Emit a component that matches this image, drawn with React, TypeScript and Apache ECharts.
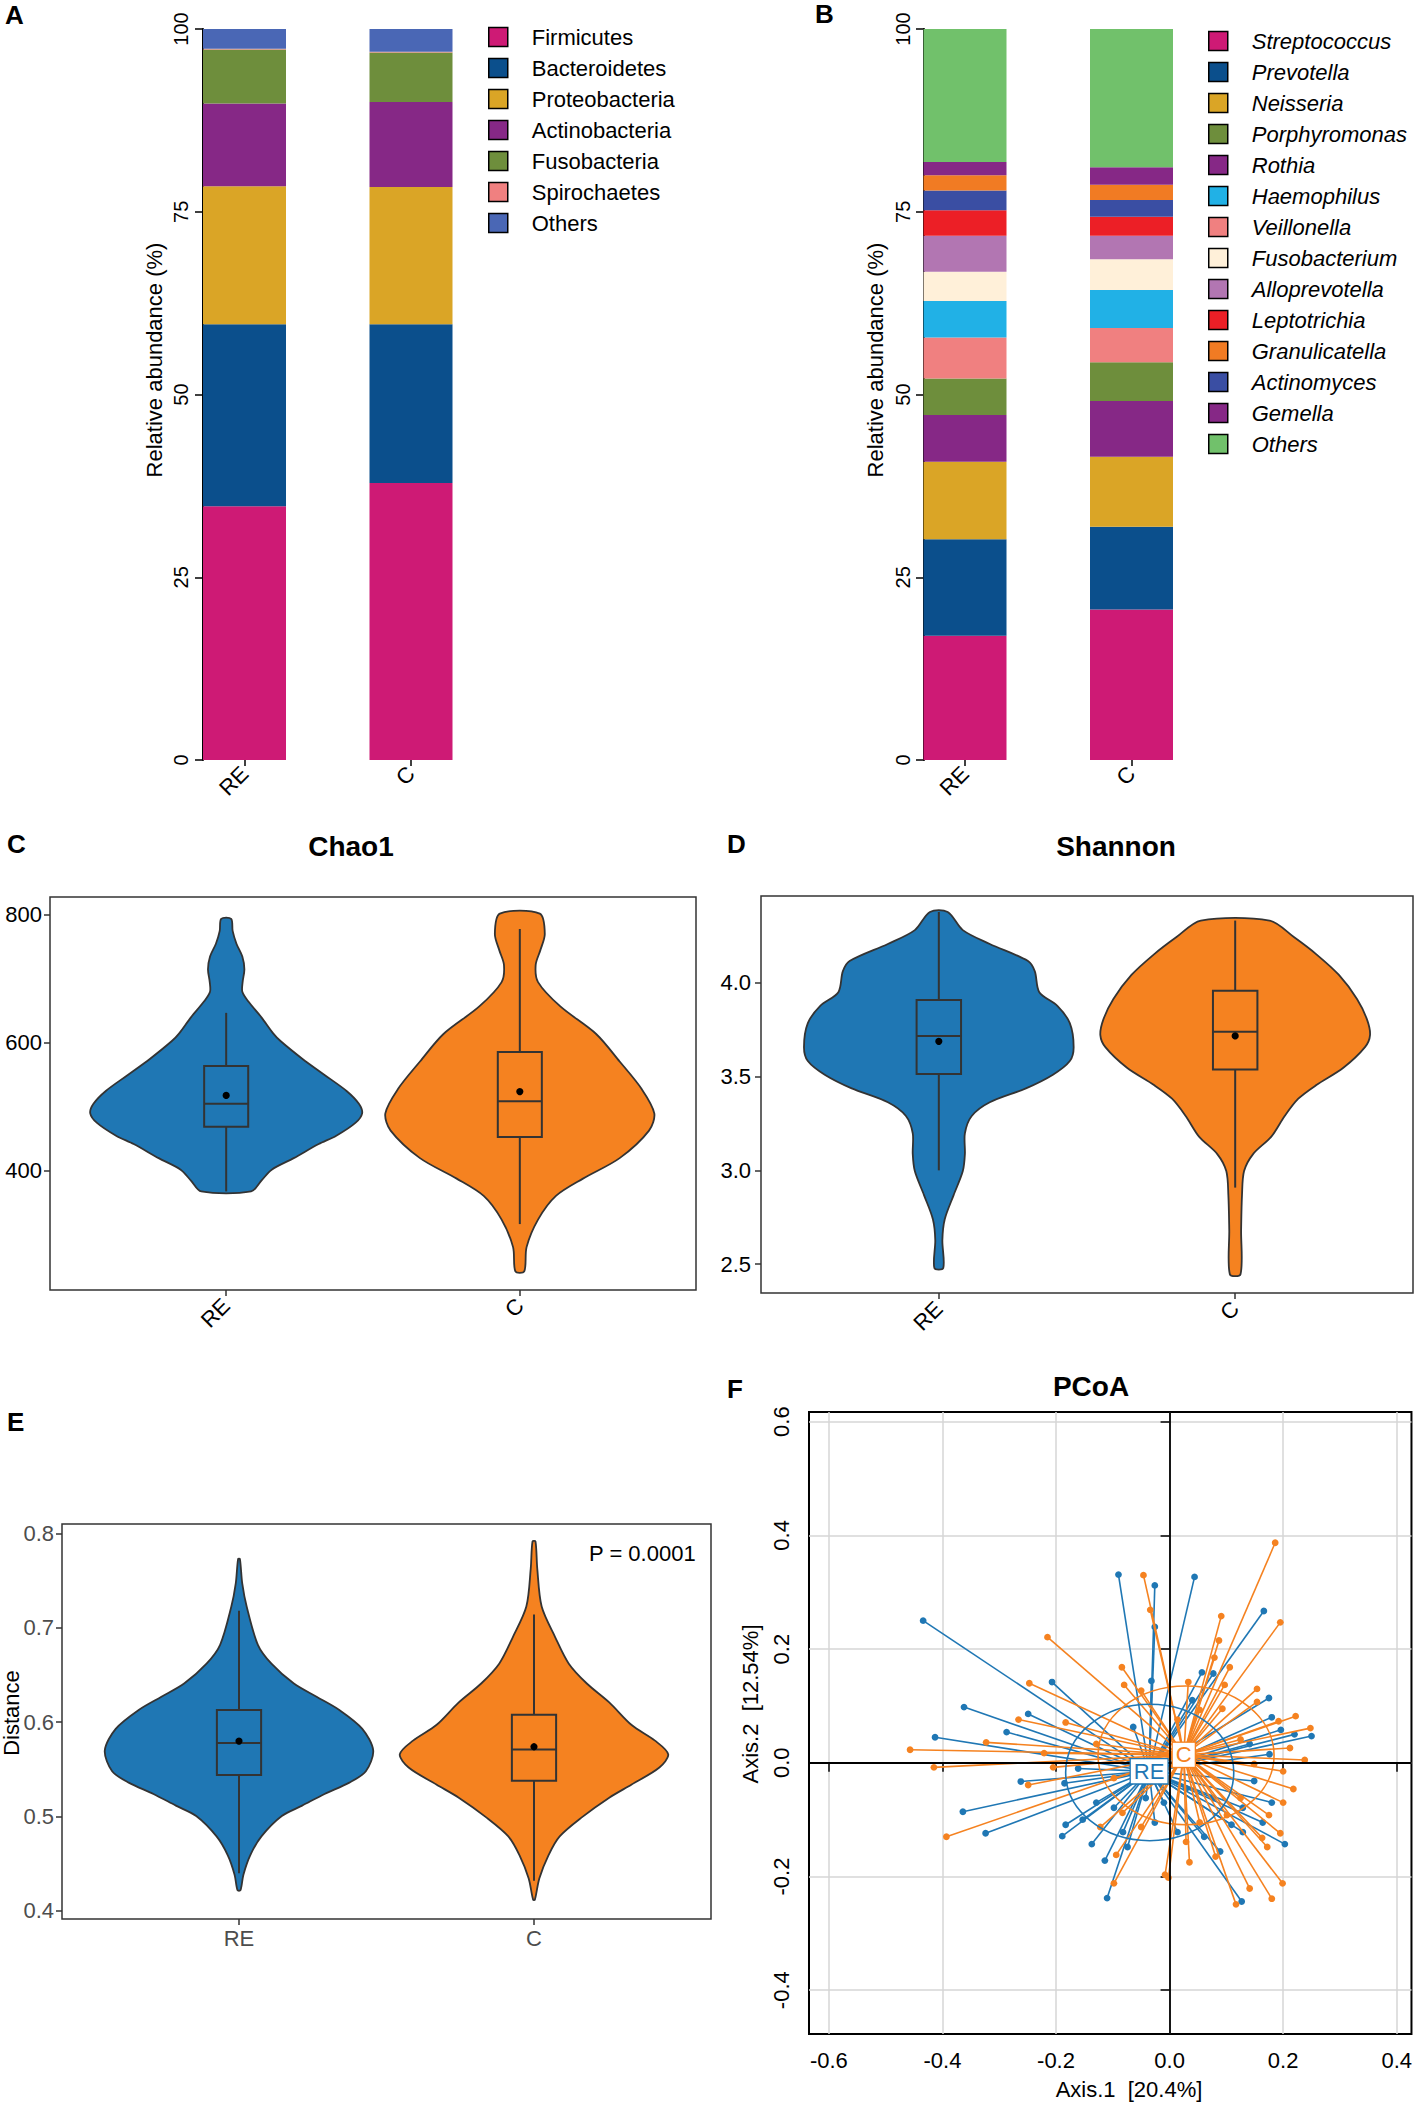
import React, { useEffect, useRef } from "react";
import * as echarts from "echarts";

const FONT = "'Liberation Sans', Arial, Helvetica, sans-serif";
const groups = ["RE", "C"];
const groupColors = ["#1F77B4", "#F58220"];

// ---------- Panel A: phylum composition ----------
const phylumNames = ["Firmicutes", "Bacteroidetes", "Proteobacteria", "Actinobacteria", "Fusobacteria", "Spirochaetes", "Others"];
const phylumColors = ["#CE1A75", "#0B4F8C", "#DAA526", "#862886", "#6E8E3C", "#F08080", "#4A67B5"];
const phylumRE = [34.7, 24.9, 18.9, 11.3, 7.4, 0.1, 2.7];
const phylumC = [37.9, 21.7, 18.8, 11.6, 6.8, 0.1, 3.1];

// ---------- Panel B: genus composition (stack order, bottom to top) ----------
const genusNames = ["Streptococcus", "Prevotella", "Neisseria", "Rothia", "Porphyromonas", "Veillonella", "Haemophilus", "Fusobacterium", "Alloprevotella", "Leptotrichia", "Actinomyces", "Granulicatella", "Gemella", "Others "];
const genusColors = ["#CE1A75", "#0B4F8C", "#DAA526", "#862886", "#6E8E3C", "#F08080", "#21B1E6", "#FFF0D9", "#B276B2", "#EC1F26", "#3A4EA3", "#F17B23", "#862886", "#71C16B"];
const genusRE = [17.0, 13.2, 10.6, 6.4, 5.0, 5.6, 5.0, 4.0, 4.9, 3.5, 2.7, 2.1, 1.8, 18.2];
const genusC = [20.6, 11.3, 9.6, 7.6, 5.3, 4.7, 5.2, 4.2, 3.2, 2.6, 2.3, 2.1, 2.4, 18.9];
const genusLegendOrder = ["Streptococcus", "Prevotella", "Neisseria", "Porphyromonas", "Rothia", "Haemophilus", "Veillonella", "Fusobacterium", "Alloprevotella", "Leptotrichia", "Granulicatella", "Actinomyces", "Gemella", "Others "];

// ---------- Panel C: Chao1 violin profiles [value, half width (category units)] ----------
const chaoViolinRE = [[794, 0.017], [775, 0.022], [755, 0.035], [735, 0.055], [715, 0.062], [695, 0.056], [680, 0.055], [665, 0.075], [640, 0.12], [615, 0.16], [603, 0.185], [575, 0.26], [550, 0.335], [525, 0.41], [505, 0.452], [490, 0.463], [475, 0.44], [455, 0.375], [442, 0.315], [420, 0.23], [402, 0.155], [385, 0.12], [368, 0.085]];
const chaoViolinC = [[802, 0.068], [770, 0.085], [745, 0.07], [722, 0.054], [695, 0.062], [657, 0.138], [614, 0.26], [571, 0.34], [528, 0.415], [490, 0.458], [463, 0.44], [420, 0.34], [388, 0.215], [361, 0.123], [324, 0.062], [281, 0.023], [243, 0.015]];
// [x, min, q1, median, q3, max, mean]
const chaoBox = [[1, 368, 469, 505, 564, 647, 518], [2, 317, 453, 509, 586, 778, 524]];

// ---------- Panel D: Shannon ----------
const shannonViolinRE = [[4.378, 0.03], [4.281, 0.081], [4.207, 0.172], [4.116, 0.301], [4.061, 0.324], [3.95, 0.339], [3.877, 0.4], [3.785, 0.442], [3.657, 0.455], [3.583, 0.442], [3.51, 0.385], [3.437, 0.294], [3.363, 0.172], [3.29, 0.111], [3.198, 0.088], [3.088, 0.088], [2.996, 0.081], [2.868, 0.05], [2.739, 0.02], [2.629, 0.012], [2.479, 0.015]];
const shannonViolinC = [[4.332, 0.116], [4.244, 0.198], [4.152, 0.274], [4.042, 0.35], [3.914, 0.411], [3.804, 0.445], [3.721, 0.455], [3.657, 0.438], [3.547, 0.365], [3.455, 0.274], [3.382, 0.213], [3.29, 0.167], [3.18, 0.122], [3.088, 0.061], [2.996, 0.03], [2.868, 0.023], [2.684, 0.02], [2.446, 0.018]];
const shannonBox = [[1, 3.0, 3.514, 3.717, 3.908, 4.378, 3.688], [2, 2.908, 3.538, 3.739, 3.958, 4.332, 3.717]];

// ---------- Panel E: Distance ----------
const distViolinRE = [[0.773, 0.003], [0.747, 0.011], [0.7225, 0.026], [0.682, 0.064], [0.662, 0.11], [0.641, 0.186], [0.627, 0.263], [0.613, 0.34], [0.593, 0.418], [0.57, 0.455], [0.548, 0.43], [0.536, 0.374], [0.524, 0.29], [0.5116, 0.214], [0.5006, 0.145], [0.479, 0.076], [0.459, 0.038], [0.4385, 0.015], [0.422, 0.005]];
const distViolinC = [[0.7915, 0.005], [0.763, 0.011], [0.7225, 0.026], [0.69, 0.072], [0.662, 0.118], [0.641, 0.179], [0.621, 0.255], [0.597, 0.331], [0.5805, 0.41], [0.566, 0.455], [0.552, 0.425], [0.534, 0.331], [0.52, 0.255], [0.4994, 0.163], [0.479, 0.087], [0.459, 0.049], [0.4345, 0.018], [0.412, 0.003]];
const distBox = [[1, 0.44, 0.544, 0.578, 0.613, 0.718, 0.58], [2, 0.432, 0.538, 0.571, 0.608, 0.714, 0.574]];
const pValueText = "P = 0.0001";

// ---------- Panel F: PCoA ----------
const pcoaCentroids = [[-0.036, -0.015], [0.025, 0.014]];
// [cx, cy, rx, ry]
const pcoaEllipses = [[-0.035, -0.017, 0.148, 0.12], [0.029, 0.013, 0.155, 0.122]];
const pcoaRE = [[-0.434, 0.25], [-0.09, 0.331], [-0.026, 0.312], [0.044, 0.327], [0.166, 0.267], [-0.207, 0.142], [-0.362, 0.098], [-0.249, 0.086], [-0.413, 0.045], [-0.287, 0.054], [-0.262, -0.033], [-0.364, -0.086], [-0.324, -0.124], [-0.189, -0.129], [-0.183, -0.109], [-0.137, -0.143], [-0.114, -0.172], [-0.11, -0.238], [0.127, -0.244], [0.203, -0.143], [0.175, 0.114], [0.25, 0.047], [0.22, 0.05], [0.057, 0.159], [-0.026, 0.239], [-0.032, 0.144], [-0.064, 0.063], [0.04, 0.11], [0.077, 0.157], [-0.185, -0.036], [-0.161, -0.01], [-0.153, -0.1], [-0.082, -0.122], [-0.074, -0.148], [-0.026, -0.105], [0.014, -0.122], [0.061, -0.13], [0.089, -0.156], [0.109, -0.109], [0.129, -0.122], [0.164, -0.105], [0.18, -0.07], [0.18, 0.08], [0.196, 0.058], [0.176, 0.015], [0.029, -0.045], [-0.042, -0.062], [-0.01, -0.07], [-0.129, -0.07], [-0.098, -0.079], [0.077, -0.062], [0.129, -0.079], [0.149, -0.032], [0.141, 0.033]];
const pcoaC = [[0.186, 0.387], [-0.046, 0.33], [-0.034, 0.269], [0.091, 0.258], [0.195, 0.247], [0.087, 0.215], [-0.215, 0.221], [0.079, 0.185], [-0.084, 0.168], [0.106, 0.168], [-0.247, 0.14], [-0.08, 0.137], [0.033, 0.142], [0.097, 0.137], [-0.05, 0.127], [0.154, 0.13], [0.154, 0.107], [-0.266, 0.076], [-0.183, 0.071], [0.093, 0.095], [0.222, 0.082], [0.192, 0.073], [0.248, 0.061], [-0.457, 0.023], [-0.323, 0.036], [-0.221, 0.017], [0.212, 0.026], [0.238, 0.005], [-0.415, -0.008], [-0.205, -0.008], [0.2, -0.015], [-0.249, -0.039], [0.218, -0.046], [0.2, -0.07], [0.175, -0.092], [0.195, -0.124], [-0.393, -0.13], [0.163, -0.132], [-0.094, -0.162], [0.081, -0.165], [0.035, -0.175], [-0.008, -0.197], [-0.002, -0.202], [-0.098, -0.212], [0.199, -0.212], [0.141, -0.221], [0.18, -0.239], [0.117, -0.249], [-0.083, -0.088], [-0.05, -0.113], [0.053, -0.105], [0.101, -0.092], [0.125, -0.062], [0.149, -0.002], [0.125, 0.041], [0.053, 0.093], [0.014, 0.076], [-0.129, 0.033], [-0.098, -0.027], [-0.122, -0.113], [0.172, -0.148], [0.029, -0.139]];
const pcoaXTicks = [-0.6, -0.4, -0.2, 0, 0.2, 0.4];
const pcoaYTicks = [-0.4, -0.2, 0, 0.2, 0.4, 0.6];

const BOX_HALF = 0.075;
const groupLabel = (v: number) => groups[Math.round(v) - 1] || "";

function violinSeries(idx: number, profile: number[][], xc: number, color: string) {
  return {
    type: "custom",
    xAxisIndex: idx,
    yAxisIndex: idx,
    data: profile.map((p) => [xc, p[0], p[1]]),
    encode: { x: 0, y: 1 },
    silent: true,
    renderItem: (params: any, api: any) => {
      if (params.dataIndex !== 0) return null;
      const left = profile.map((p) => api.coord([xc - p[1], p[0]]));
      const right = profile.map((p) => api.coord([xc + p[1], p[0]])).reverse();
      return {
        type: "polygon",
        shape: { points: left.concat(right), smooth: 0.3 },
        style: { fill: color, stroke: "#333333", lineWidth: 1.8 },
      };
    },
  };
}

function boxSeries(idx: number, boxes: number[][]) {
  return {
    type: "custom",
    xAxisIndex: idx,
    yAxisIndex: idx,
    data: boxes,
    encode: { x: 0, y: [1, 2, 3, 4, 5] },
    silent: true,
    z: 5,
    renderItem: (params: any, api: any) => {
      const x = api.value(0);
      const lo = api.coord([x, api.value(1)]);
      const q1 = api.coord([x, api.value(2)]);
      const md = api.coord([x, api.value(3)]);
      const q3 = api.coord([x, api.value(4)]);
      const hi = api.coord([x, api.value(5)]);
      const mn = api.coord([x, api.value(6)]);
      const l = api.coord([x - BOX_HALF, api.value(4)]);
      const r = api.coord([x + BOX_HALF, api.value(2)]);
      const st = { stroke: "#333333", lineWidth: 2 };
      return {
        type: "group",
        children: [
          { type: "line", shape: { x1: lo[0], y1: lo[1], x2: q1[0], y2: q1[1] }, style: st },
          { type: "line", shape: { x1: q3[0], y1: q3[1], x2: hi[0], y2: hi[1] }, style: st },
          { type: "rect", shape: { x: l[0], y: l[1], width: r[0] - l[0], height: r[1] - l[1] }, style: { fill: "none", stroke: "#333333", lineWidth: 2 } },
          { type: "line", shape: { x1: l[0], y1: md[1], x2: r[0], y2: md[1] }, style: st },
          { type: "circle", shape: { cx: mn[0], cy: mn[1], r: 3.6 }, style: { fill: "#000" } },
        ],
      };
    },
  };
}

function spiderSeries(points: number[][], centroid: number[], color: string) {
  return {
    type: "custom",
    xAxisIndex: 5,
    yAxisIndex: 5,
    data: points,
    encode: { x: 0, y: 1 },
    silent: true,
    z: 3,
    renderItem: (params: any, api: any) => {
      const c = api.coord(centroid);
      const p = api.coord([api.value(0), api.value(1)]);
      return {
        type: "group",
        children: [
          { type: "line", shape: { x1: c[0], y1: c[1], x2: p[0], y2: p[1] }, style: { stroke: color, lineWidth: 1.6 } },
          { type: "circle", shape: { cx: p[0], cy: p[1], r: 3.4 }, style: { fill: color } },
        ],
      };
    },
  };
}

function ellipseSeries(e: number[], color: string) {
  return {
    type: "custom",
    xAxisIndex: 5,
    yAxisIndex: 5,
    data: [e],
    encode: { x: 0, y: 1 },
    silent: true,
    z: 4,
    renderItem: (params: any, api: any) => {
      const c = api.coord([api.value(0), api.value(1)]);
      const s = api.size([api.value(2), api.value(3)]);
      return {
        type: "ellipse",
        shape: { cx: c[0], cy: c[1], rx: s[0], ry: s[1] },
        style: { fill: "none", stroke: color, lineWidth: 1.6 },
      };
    },
  };
}

function centroidLabelSeries() {
  return {
    type: "custom",
    xAxisIndex: 5,
    yAxisIndex: 5,
    data: pcoaCentroids,
    encode: { x: 0, y: 1 },
    silent: true,
    z: 6,
    renderItem: (params: any, api: any) => {
      const p = api.coord([api.value(0), api.value(1)]);
      const i = params.dataIndex;
      return {
        type: "text",
        x: p[0],
        y: p[1],
        style: {
          text: groups[i], fill: groupColors[i], fontSize: 22, fontFamily: FONT,
          align: "center", verticalAlign: "middle",
          backgroundColor: "#fff", borderColor: groupColors[i], borderWidth: 1.3, padding: [2, 3, 0, 3],
        },
      };
    },
  };
}

const tickStyle = (color: string, len: number) => ({ show: true, length: len, lineStyle: { color, width: 1.5 } });

function buildOption() {
  const grids = [
    { left: 161.25, top: 29, width: 333, height: 731 },
    { left: 881.75, top: 29, width: 333, height: 731 },
    { left: 50, top: 897, width: 646, height: 393, show: true, borderColor: "#333333", borderWidth: 1.5 },
    { left: 761, top: 896, width: 652, height: 397, show: true, borderColor: "#333333", borderWidth: 1.5 },
    { left: 62, top: 1524, width: 649, height: 395, show: true, borderColor: "#333333", borderWidth: 1.5 },
    { left: 809, top: 1412, width: 604, height: 622, show: true, borderColor: "#000000", borderWidth: 2 },
  ];

  const barX = (gi: number) => ({
    type: "category", gridIndex: gi, data: groups, boundaryGap: true,
    axisLine: { show: false }, splitLine: { show: false },
    axisTick: { ...tickStyle("#000", 6), alignWithLabel: true },
    axisLabel: { rotate: 45, fontSize: 22, color: "#000", margin: 10, fontFamily: FONT },
  });
  const barY = (gi: number, margin: number, offset: number) => ({
    type: "value", gridIndex: gi, min: 0, max: 100, interval: 25, offset,
    axisLine: { show: true, lineStyle: { color: "#000", width: 2 } },
    axisTick: tickStyle("#000", 8),
    splitLine: { show: false },
    axisLabel: { rotate: 90, fontSize: 20, color: "#000", margin, fontFamily: FONT },
  });
  const violinX = (gi: number, rotate: number, color: string, margin: number) => ({
    type: "value", gridIndex: gi, min: 0.4, max: 2.6,
    axisLine: { show: false }, splitLine: { show: false },
    axisTick: { ...tickStyle("#333333", 6), customValues: [1, 2] },
    axisLabel: { customValues: [1, 2], formatter: groupLabel, rotate, fontSize: 22, color, margin, fontFamily: FONT },
  });
  const violinY = (gi: number, min: number, max: number, ticks: number[], digits: number, color: string, margin: number) => ({
    type: "value", gridIndex: gi, min, max,
    axisLine: { show: false }, splitLine: { show: false },
    axisTick: { ...tickStyle("#333333", 6), customValues: ticks },
    axisLabel: { customValues: ticks, formatter: (v: number) => v.toFixed(digits), fontSize: 22, color, margin, fontFamily: FONT },
  });

  const xAxis = [
    barX(0),
    barX(1),
    violinX(2, 45, "#000", 12),
    violinX(3, 45, "#000", 12),
    violinX(4, 0, "#4D4D4D", 8),
    {
      type: "value", gridIndex: 5, min: -0.635, max: 0.426,
      axisLine: { show: false },
      axisTick: { ...tickStyle("#000", 9), customValues: pcoaXTicks },
      axisLabel: { customValues: pcoaXTicks, formatter: (v: number) => v.toFixed(1), fontSize: 22, color: "#000", margin: 15, fontFamily: FONT },
      splitLine: { show: true, lineStyle: { color: "#D6D6D6", width: 1.5 } },
    },
  ];
  const yAxis = [
    barY(0, 12, -41.75),
    barY(1, 11, -42.25),
    violinY(2, 214, 828, [400, 600, 800], 0, "#000", 8),
    violinY(3, 2.346, 4.463, [2.5, 3.0, 3.5, 4.0], 1, "#000", 10),
    violinY(4, 0.3915, 0.81, [0.4, 0.5, 0.6, 0.7, 0.8], 1, "#4D4D4D", 8),
    {
      type: "value", gridIndex: 5, min: -0.477, max: 0.617,
      axisLine: { show: false },
      axisTick: { ...tickStyle("#000", 9), customValues: pcoaYTicks },
      axisLabel: { customValues: pcoaYTicks, formatter: (v: number) => v.toFixed(1), rotate: 90, fontSize: 22, color: "#000", margin: 17, fontFamily: FONT },
      splitLine: { show: true, lineStyle: { color: "#D6D6D6", width: 1.5 } },
    },
  ];

  const series: any[] = [];
  phylumNames.forEach((name, i) => {
    series.push({
      type: "bar", name, stack: "phylum", xAxisIndex: 0, yAxisIndex: 0, barWidth: 83,
      data: [phylumRE[i], phylumC[i]],
      itemStyle: { color: phylumColors[i] }, silent: true,
    });
  });
  genusNames.forEach((name, i) => {
    series.push({
      type: "bar", name, stack: "genus", xAxisIndex: 1, yAxisIndex: 1, barWidth: 83,
      data: [genusRE[i], genusC[i]],
      itemStyle: { color: genusColors[i] }, silent: true,
    });
  });

  series.push(violinSeries(2, chaoViolinRE, 1, groupColors[0]));
  series.push(violinSeries(2, chaoViolinC, 2, groupColors[1]));
  series.push(boxSeries(2, chaoBox));
  series.push(violinSeries(3, shannonViolinRE, 1, groupColors[0]));
  series.push(violinSeries(3, shannonViolinC, 2, groupColors[1]));
  series.push(boxSeries(3, shannonBox));
  series.push(violinSeries(4, distViolinRE, 1, groupColors[0]));
  series.push(violinSeries(4, distViolinC, 2, groupColors[1]));
  series.push(boxSeries(4, distBox));

  // PCoA zero lines
  series.push({
    type: "line", xAxisIndex: 5, yAxisIndex: 5, data: [], z: 1,
    markLine: {
      silent: true, symbol: "none", label: { show: false },
      lineStyle: { color: "#000", type: "solid", width: 1.8 },
      data: [{ xAxis: 0 }, { yAxis: 0 }],
    },
  });
  series.push(spiderSeries(pcoaRE, pcoaCentroids[0], groupColors[0]));
  series.push(spiderSeries(pcoaC, pcoaCentroids[1], groupColors[1]));
  series.push(ellipseSeries(pcoaEllipses[0], groupColors[0]));
  series.push(ellipseSeries(pcoaEllipses[1], groupColors[1]));
  series.push(centroidLabelSeries());

  const txt = (text: string, x: number, y: number, o: any = {}) => ({
    type: "text", x, y, rotation: o.rotation || 0, silent: true,
    style: {
      text, fontSize: o.size || 22, fontWeight: o.weight || "normal", fontFamily: FONT,
      fill: o.color || "#000", align: o.align || "center", verticalAlign: "middle",
    },
  });

  const graphic = [
    txt("A", 5, 15, { size: 26, weight: "bold", align: "left" }),
    txt("B", 815, 14, { size: 26, weight: "bold", align: "left" }),
    txt("C", 7, 844, { size: 26, weight: "bold", align: "left" }),
    txt("D", 727, 844, { size: 26, weight: "bold", align: "left" }),
    txt("E", 7, 1422, { size: 26, weight: "bold", align: "left" }),
    txt("F", 727, 1389, { size: 26, weight: "bold", align: "left" }),
    txt("Relative abundance (%)", 154, 360, { rotation: Math.PI / 2 }),
    txt("Relative abundance (%)", 875, 360, { rotation: Math.PI / 2 }),
    txt("Chao1", 351, 846, { size: 28, weight: "bold" }),
    txt("Shannon", 1116, 846, { size: 28, weight: "bold" }),
    txt("Distance", 11, 1713, { rotation: Math.PI / 2 }),
    txt(pValueText, 589, 1553, { align: "left" }),
    txt("PCoA", 1091, 1386, { size: 28, weight: "bold" }),
    txt("Axis.1  [20.4%]", 1129, 2089),
    txt("Axis.2  [12.54%]", 750, 1704, { rotation: Math.PI / 2 }),
  ];

  const legendBase = {
    orient: "vertical", icon: "rect", itemWidth: 19, itemHeight: 19, itemGap: 9,
    selectedMode: false, padding: 0,
    itemStyle: { borderColor: "#000", borderWidth: 1.5 },
    formatter: (n: string) => n.trim(),
  };

  return {
    animation: false,
    textStyle: { fontFamily: FONT },
    grid: grids,
    xAxis,
    yAxis,
    series,
    graphic,
    legend: [
      { ...legendBase, left: 488, top: 26, data: phylumNames, textStyle: { fontSize: 22, color: "#000", fontFamily: FONT, padding: [0, 0, 0, 19] } },
      { ...legendBase, left: 1208, top: 30, data: genusLegendOrder, textStyle: { fontSize: 22, color: "#000", fontStyle: "italic", fontFamily: FONT, padding: [0, 0, 0, 19] } },
    ],
  };
}

export default function App() {
  const ref = useRef<HTMLDivElement>(null);
  useEffect(() => {
    document.body.style.margin = "0";
    if (!ref.current) return;
    const chart = echarts.init(ref.current, null, { renderer: "svg" });
    chart.setOption(buildOption() as any);
    return () => chart.dispose();
  }, []);
  return <div ref={ref} style={{ position: "absolute", left: 0, top: 0, width: 1415, height: 2103, background: "#fff" }} />;
}
